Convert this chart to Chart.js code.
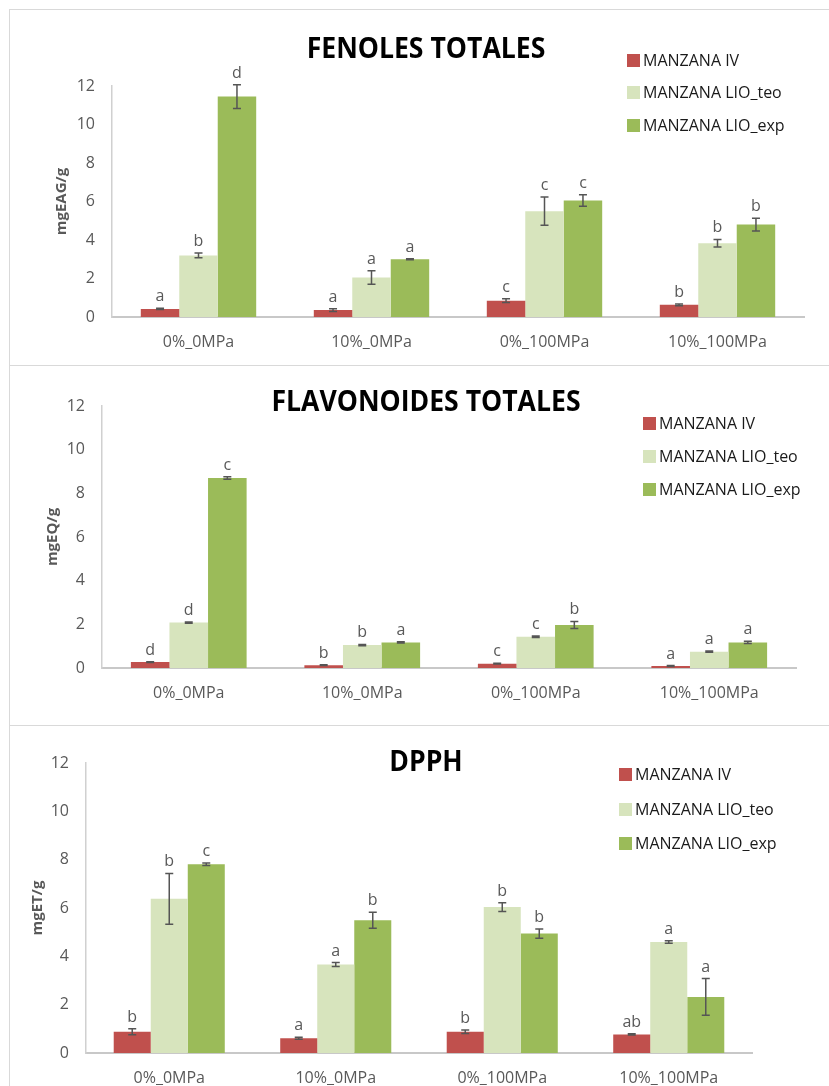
<!DOCTYPE html>
<html>
<head>
<meta charset="utf-8">
<title>Fenoles, flavonoides y DPPH</title>
<script src="https://cdn.jsdelivr.net/npm/chart.js@4.4.1/dist/chart.umd.min.js"></script>
<style>
    body { margin: 0; background: #fff; }
    #page { position: relative; width: 829px; height: 1086px; overflow: hidden; font-family: 'Open Sans', sans-serif; }
    .panel { position: absolute; left: 9px; width: 860px; border: 1.5px solid #d9d9d9; box-sizing: border-box; }
    canvas { position: absolute; left: 0; }
    .title { position: absolute; font-weight: bold; font-size: 28px; color: #000; white-space: nowrap; line-height: 1; }
    .legend-item { position: absolute; font-size: 16px; color: #1a1a1a; white-space: nowrap; line-height: 20px; height: 20px; }
    .legend-item span.box { display: inline-block; width: 13px; height: 13px; margin-right: 3px; vertical-align: -1px; }
</style>
</head>
<body>
<div id="page">
    <div class="panel" style="top:9px; height:357px;"></div>
    <div class="panel" style="top:365px; height:361px;"></div>
    <div class="panel" style="top:725px; height:500px;"></div>

    <canvas id="fenoles" width="829" height="356" style="top:9px"></canvas>
    <canvas id="flavonoides" width="829" height="360" style="top:365px"></canvas>
    <canvas id="dpph" width="829" height="361" style="top:725px"></canvas>
</div>

<script>
// Treatments on the x axis and the three sample series
const categories = ['0%_0MPa', '10%_0MPa', '0%_100MPa', '10%_100MPa'];
const seriesNames = ['MANZANA IV', 'MANZANA LIO_teo', 'MANZANA LIO_exp'];
const seriesColors = ['#c0504d', '#d7e4bd', '#9bbb59'];
const yTicks = [0, 2, 4, 6, 8, 10, 12];

// Fenoles totales (mgEAG/g)
const fenolesIV = [0.42, 0.36, 0.85, 0.63];
const fenolesIVErr = [0.03, 0.07, 0.1, 0.04];
const fenolesIVLetters = ['a', 'a', 'c', 'b'];
const fenolesTeo = [3.2, 2.05, 5.5, 3.83];
const fenolesTeoErr = [0.12, 0.35, 0.73, 0.2];
const fenolesTeoLetters = ['b', 'a', 'c', 'b'];
const fenolesExp = [11.45, 3.0, 6.05, 4.8];
const fenolesExpErr = [0.62, 0.03, 0.3, 0.33];
const fenolesExpLetters = ['d', 'a', 'c', 'b'];

// Flavonoides totales (mgEQ/g)
const flavIV = [0.27, 0.13, 0.2, 0.09];
const flavIVErr = [0.02, 0.02, 0.02, 0.02];
const flavIVLetters = ['d', 'b', 'c', 'a'];
const flavTeo = [2.08, 1.05, 1.43, 0.75];
const flavTeoErr = [0.03, 0.03, 0.03, 0.03];
const flavTeoLetters = ['d', 'b', 'c', 'a'];
const flavExp = [8.7, 1.17, 1.97, 1.17];
const flavExpErr = [0.06, 0.03, 0.16, 0.05];
const flavExpLetters = ['c', 'a', 'b', 'a'];

// DPPH (mgET/g)
const dpphIV = [0.88, 0.61, 0.88, 0.77];
const dpphIVErr = [0.12, 0.04, 0.07, 0.03];
const dpphIVLetters = ['b', 'a', 'b', 'ab'];
const dpphTeo = [6.38, 3.66, 6.04, 4.59];
const dpphTeoErr = [1.05, 0.08, 0.18, 0.05];
const dpphTeoLetters = ['b', 'a', 'b', 'a'];
const dpphExp = [7.81, 5.49, 4.94, 2.32];
const dpphExpErr = [0.05, 0.33, 0.19, 0.76];
const dpphExpLetters = ['c', 'b', 'b', 'a'];

const textGray = '#595959';
const page = document.getElementById('page');

// Draws +/- error bars and the significance letters above each bar
const errorBarPlugin = {
    id: 'errorBars',
    afterDatasetsDraw(chart) {
        const ctx = chart.ctx;
        const yScale = chart.scales.y;
        ctx.save();
        chart.data.datasets.forEach((ds, i) => {
            const meta = chart.getDatasetMeta(i);
            meta.data.forEach((bar, j) => {
                const v = ds.data[j];
                const e = ds.errors[j];
                const top = yScale.getPixelForValue(v + e);
                const bottom = yScale.getPixelForValue(v - e);
                ctx.strokeStyle = '#555';
                ctx.lineWidth = 1.5;
                ctx.beginPath();
                ctx.moveTo(bar.x, top);
                ctx.lineTo(bar.x, bottom);
                ctx.moveTo(bar.x - 4, top);
                ctx.lineTo(bar.x + 4, top);
                ctx.moveTo(bar.x - 4, bottom);
                ctx.lineTo(bar.x + 4, bottom);
                ctx.stroke();

                ctx.fillStyle = textGray;
                ctx.font = '16px "Open Sans"';
                ctx.textAlign = 'center';
                ctx.textBaseline = 'alphabetic';
                ctx.fillText(ds.letters[j], bar.x, top - 7);
            });
        });
        ctx.restore();
    }
};

function addTitle(text, cx, cy, squeeze) {
    const el = document.createElement('div');
    el.className = 'title';
    el.textContent = text;
    el.style.left = cx + 'px';
    el.style.top = cy + 'px';
    el.style.transform = 'translate(-50%, -50%) scaleX(' + squeeze + ')';
    page.appendChild(el);
}

function addLegend(boxLeft, rowCenters) {
    seriesNames.forEach((name, i) => {
        const item = document.createElement('div');
        item.className = 'legend-item';
        item.style.left = boxLeft + 'px';
        item.style.top = (rowCenters[i] - 10) + 'px';
        item.innerHTML = `<span class="box" style="background:${seriesColors[i]}"></span>${name}`;
        page.appendChild(item);
    });
}

function makeChart(canvasId, values, errors, letters, yLabel, box) {
    const datasets = seriesNames.map((name, i) => ({
        label: name,
        data: values[i],
        errors: errors[i],
        letters: letters[i],
        backgroundColor: seriesColors[i],
        borderWidth: 0,
        categoryPercentage: 0.667,
        barPercentage: 1.0
    }));

    return new Chart(document.getElementById(canvasId), {
        type: 'bar',
        data: { labels: categories, datasets: datasets },
        options: {
            responsive: false,
            animation: false,
            layout: { padding: { top: box.top, left: box.left, right: box.right, bottom: 0 } },
            plugins: {
                legend: { display: false },
                title: { display: false },
                tooltip: { enabled: false }
            },
            scales: {
                x: {
                    grid: { display: false, drawTicks: false },
                    border: { display: true, color: '#c8c8c8', width: 2 },
                    ticks: { color: textGray, font: { family: 'Open Sans', size: 16 }, padding: 16 },
                    afterFit: (scale) => { scale.height = box.xHeight; }
                },
                y: {
                    min: 0,
                    max: 12,
                    afterBuildTicks: (scale) => { scale.ticks = yTicks.map(v => ({ value: v })); },
                    grid: { display: false, drawTicks: false },
                    border: { display: true, color: '#d0d0d0', width: 1.5 },
                    ticks: { color: textGray, font: { family: 'Open Sans', size: 16 }, padding: 17 },
                    title: {
                        display: true,
                        text: yLabel,
                        color: textGray,
                        font: { family: 'Open Sans', size: 15, weight: 'bold' }
                    },
                    afterFit: (scale) => { scale.width = box.yWidth; }
                }
            }
        },
        plugins: [errorBarPlugin]
    });
}

makeChart('fenoles',
    [fenolesIV, fenolesTeo, fenolesExp],
    [fenolesIVErr, fenolesTeoErr, fenolesExpErr],
    [fenolesIVLetters, fenolesTeoLetters, fenolesExpLetters],
    'mgEAG/g',
    { top: 77, left: 49, right: 25, yWidth: 63, xHeight: 48 });

makeChart('flavonoides',
    [flavIV, flavTeo, flavExp],
    [flavIVErr, flavTeoErr, flavExpErr],
    [flavIVLetters, flavTeoLetters, flavExpLetters],
    'mgEQ/g',
    { top: 41, left: 40, right: 33, yWidth: 62, xHeight: 57 });

makeChart('dpph',
    [dpphIV, dpphTeo, dpphExp],
    [dpphIVErr, dpphTeoErr, dpphExpErr],
    [dpphIVLetters, dpphTeoLetters, dpphExpLetters],
    'mgET/g',
    { top: 38, left: 25, right: 77, yWidth: 61, xHeight: 33 });

addTitle('FENOLES TOTALES', 426, 47, 0.95);
addTitle('FLAVONOIDES TOTALES', 426, 400, 0.95);
addTitle('DPPH', 426, 760, 0.95);

addLegend(627, [60, 92, 125]);
addLegend(643, [423, 456, 489]);
addLegend(619, [774, 809, 843]);
</script>
</body>
</html>
